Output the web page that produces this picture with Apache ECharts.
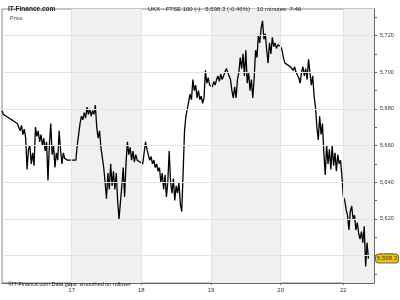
<!DOCTYPE html>
<html>
<head>
<meta charset="utf-8">
<script src="https://cdn.jsdelivr.net/npm/echarts@6/dist/echarts.min.js"></script>
<style>html,body{margin:0;padding:0;background:#fff}#c{width:400px;height:300px}</style>
</head>
<body>
<div id="c"></div>
<script>
// Day labels and number of 10-minute bars on the axis for each day
const dayNames = ['16', '17', '18', '19', '20', '22'];
const barsPerDay = [50, 50, 50, 50, 45, 23];
const shadedDays = ['17', '19', '22'];

// Price values per day
const day16 = [5679,5677,5678,5676,5677,5675,5676,5674,5675,5673,5674,5672,
  5672,5668,5671,5666,5669,5664,
  5647,5658,5660,5650,5656,5649,
  5670,5665,5668,5662,5666,5660,5664,5657,
  5662,5641,5660,5672,5655,5660,5648,5656,5652,5668,5658,5650,5656,5653,5654,5652,5653,5652];
const day17 = [5653,5652,5653,5652,5660,5666,5672,5676,5674,5678,
  5675,5681,5677,5680,5676,5679,5677,5682,5670,5664,
  5668,5659,5660,5648,5640,5631,5645,5636,5650,5638,
  5646,5636,5645,5630,5620,5621,5638,5648,5632,5650,
  5662,5655,5659,5652,5657,5651,5655,5652,5653,5651];
const day18 = [5652,5650,5656,5662,5658,5655,5652,5654,5650,5652,
  5648,5650,5646,5648,5640,5645,5636,5644,5632,5640,
  5657,5640,5634,5642,5630,5638,5634,5640,5628,5624,
  5645,5668,5676,5680,5684,5688,5685,5696,5690,5693,
  5686,5690,5685,5687,5683,5686,5701,5694,5697,5693];
const day19 = [5694,5692,5695,5693,5696,5698,5695,5699,5696,5698,
  5697,5702,5700,5701,5696,5690,5686,5692,5686,5696,
  5700,5708,5702,5710,5698,5712,5694,5700,5690,5696,
  5686,5697,5712,5708,5720,5716,5724,5728,5718,5721,
  5712,5705,5716,5710,5719,5714,5716,5713,5715,5714];
const day20 = [5714,5712,5708,5705,5706,5704,5705,5703,5704,5701,
  5703,5700,5701,5697,5694,5700,5703,5698,5702,5696,
  5707,5700,5693,5698,5687,5681,5670,5663,5676,5666,
  5672,5656,5644,5660,5650,5658,5647,5660,5649,5656,
  5646,5655,5650,5652,5643];
const day22 = [5632,5630,5625,5622,5614,5624,5627,5620,5622,5614,
  5618,5612,5609,5613,5607,5616,5594,5607,5598.3];

const yTickLabels = [5600, 5620, 5640, 5660, 5680, 5700, 5720];
const yMinorTicks = [5590, 5600, 5610, 5620, 5630, 5640, 5650, 5660, 5670, 5680, 5690, 5700, 5710, 5720, 5730];
const lastPrice = 5598.3;

// build categories
const cats = [];
const dayStart = [];
barsPerDay.forEach((n, d) => { dayStart.push(cats.length); for (let i = 0; i < n; i++) cats.push(dayNames[d]); });
const boundaryIdx = dayStart.slice(1);
const prices = [].concat(day16, day17, day18, day19, day20, day22);

const shadeAreas = [];
dayNames.forEach((name, d) => {
  if (shadedDays.includes(name)) {
    const s = dayStart[d];
    const e = Math.min(s + barsPerDay[d], cats.length - 1);
    shadeAreas.push([{ xAxis: s }, { xAxis: e }]);
  }
});

const gridLines = yTickLabels.map(v => ({ yAxis: v }));
const vLines = boundaryIdx.map(i => ({ xAxis: i }));

const fmt = v => Number(v).toLocaleString('en-US');
const FONT = 'Liberation Sans';

const chart = echarts.init(document.getElementById('c'), null, { renderer: 'canvas' });
chart.setOption({
  animation: false,
  backgroundColor: '#fff',
  textStyle: { fontFamily: FONT },
  title: [
    { text: 'IT-Finance.com', left: 3, top: 1, textStyle: { fontSize: 6.5, fontWeight: 'bold', color: '#222', fontFamily: FONT } },
    { text: 'UKX - FTSE 100 (-)   5,598.3 (-0.46%)    10 minutes  7:46', left: 143, top: 1, textStyle: { fontSize: 6, fontWeight: 'normal', color: '#222', fontFamily: FONT } },
    { text: 'Price', left: 5, top: 10, textStyle: { fontSize: 5.5, fontWeight: 'normal', color: '#444', fontFamily: FONT } },
    { text: '\u00A9IT-Finance.com Data gaps: smoothed on rollover', left: 3, top: 276, textStyle: { fontSize: 5.5, fontWeight: 'normal', color: '#222', fontFamily: FONT } }
  ],
  grid: { left: 2, right: 26, top: 9, bottom: 17, show: true, borderColor: '#888', borderWidth: 1, backgroundColor: '#fff' },
  xAxis: {
    type: 'category',
    data: cats,
    boundaryGap: false,
    axisLine: { show: true, lineStyle: { color: '#666' } },
    axisTick: { show: true, length: 2, interval: (i) => boundaryIdx.includes(i), lineStyle: { color: '#666' } },
    axisLabel: { interval: (i) => boundaryIdx.includes(i), fontSize: 6, color: '#333', margin: 4, fontFamily: FONT },
    splitLine: { show: false }
  },
  yAxis: {
    type: 'value',
    position: 'right',
    min: 5585,
    max: 5734.5,
    axisLine: { show: true, lineStyle: { color: '#666' } },
    axisTick: { show: true, length: 3, customValues: yMinorTicks, lineStyle: { color: '#666' } },
    axisLabel: { customValues: yTickLabels, formatter: fmt, fontSize: 5.5, color: '#333', margin: 6, fontFamily: FONT },
    splitLine: { show: false },
    axisPointer: {
      show: true, status: 'show', value: lastPrice, type: 'line', triggerTooltip: false,
      lineStyle: { opacity: 0 },
      label: { show: true, formatter: () => fmt(lastPrice), backgroundColor: '#f5c400', borderColor: '#666', borderWidth: 1, padding: [1, 1, 1, 1], fontSize: 6, color: '#333', margin: 2, fontFamily: FONT }
    }
  },
  series: [
    {
      type: 'line', data: [], z: 1, silent: true,
      markArea: { silent: true, itemStyle: { color: '#f0f0f0' }, data: shadeAreas }
    },
    {
      type: 'line', data: [], z: 2, silent: true,
      markLine: { silent: true, symbol: 'none', label: { show: false }, lineStyle: { color: '#e4e4e4', type: 'solid', width: 1 }, data: gridLines.concat(vLines) }
    },
    {
      type: 'line', data: prices, z: 3, symbol: 'none', silent: true,
      lineStyle: { color: '#000', width: 1.3 }
    }
  ]
});
</script>
</body>
</html>
